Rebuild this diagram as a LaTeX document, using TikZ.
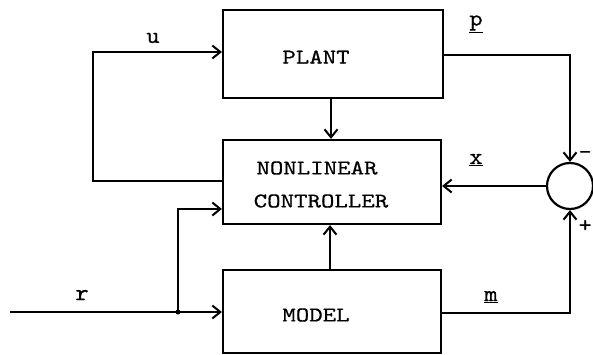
\documentclass[tikz,border=0pt]{standalone}
\usepackage{fontspec}
\newfontfamily\twfont{lmmono10-regular.otf}[FakeBold=0.5]
\usetikzlibrary{arrows.meta}
\newcommand{\tw}[1]{\scalebox{1.22}[1]{\fontsize{21}{25}\selectfont\twfont #1}}
\newcommand{\lbl}[1]{\scalebox{1.1}[1]{\fontsize{23}{26}\selectfont\twfont #1}}
\tikzset{
  blk/.style={draw, line width=2.2pt, inner sep=0pt},
  wire/.style={line width=2pt},
  arr/.style={wire, -{Straight Barb[length=8pt,width=13pt,line width=2pt]}},
}
\begin{document}
\begin{tikzpicture}[x=1pt,y=-1pt]
\useasboundingbox (0,0) rectangle (593,355);
% blocks
\node[blk, minimum width=220pt, minimum height=88pt] (plant) at (333,54) {};
\node[blk, minimum width=218pt, minimum height=84pt] (ctrl) at (332,182) {};
\node[blk, minimum width=218pt, minimum height=83pt] (model) at (332,311.5) {};
\node at (316,57) {\tw{PLANT}};
\node at (317,168) {\tw{NONLINEAR}};
\node at (321,201) {\tw{CONTROLLER}};
\node at (316,315) {\tw{MODEL}};
% summing junction
\node[draw, circle, line width=2.2pt, minimum size=46pt, inner sep=0pt] (sum) at (570,186) {};
% coordinates
\coordinate (ul) at (93,52);
\coordinate (ub) at (93,181);
\coordinate (rin) at (10,312);
\coordinate (rj) at (178,312);
\coordinate (rt) at (178,209);
\coordinate (pc) at (570,55);
\coordinate (mc) at (570,313);
% u loop
\draw[arr] (ctrl.west |- ub) -- (ub) -- (ul) -- (plant.west |- ul);
% r input
\draw[arr] (rin) -- (model.west |- rin);
\draw[arr] (rj) -- (rt) -- (ctrl.west |- rt);
\fill (rj) circle (2.5pt);
% plant to controller
\draw[arr] (plant.south -| 331,0) -- (ctrl.north -| 331,0);
% model to controller
\draw[arr] (model.north -| 330,0) -- (ctrl.south -| 330,0);
% p output
\draw[arr] (plant.east |- pc) -- (pc) -- (sum.north);
% m output
\draw[arr] (model.east |- mc) -- (mc) -- (sum.south);
% x
\draw[arr] (sum.west) -- (ctrl.east |- sum.west);
% labels
\node at (153,38) {\lbl{u}};
\node at (476,24) {\lbl{\underline{p}}};
\node at (476,160) {\lbl{\underline{x}}};
\node at (82,295) {\lbl{r}};
\node at (491,297) {\lbl{\underline{m}}};
\node[inner sep=0pt, anchor=east] at (592,155) {\lbl{-}};
\node[inner sep=0pt, anchor=east] at (592,226) {\lbl{+}};
\end{tikzpicture}
\end{document}
